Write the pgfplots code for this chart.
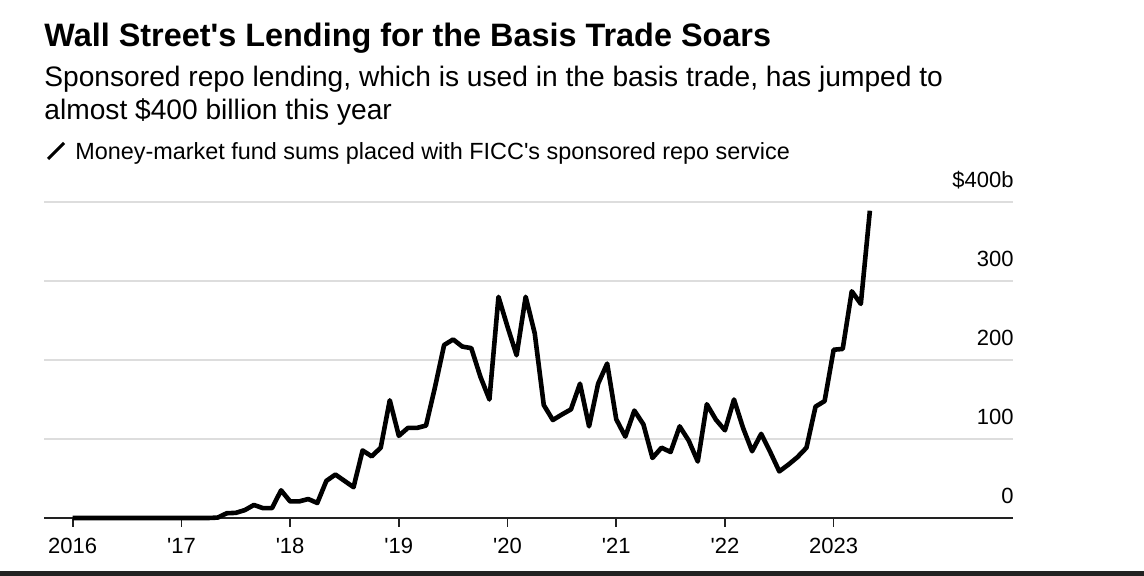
\documentclass[border=0pt]{standalone}
\usepackage{fontspec}
\setmainfont{Liberation Sans}
\usepackage{pgfplots}
\pgfplotsset{compat=1.18}
\definecolor{gridgray}{HTML}{DDDDDD}
\definecolor{axisdark}{HTML}{222222}
\newcommand{\q}{\textquotesingle}

\begin{document}
\begin{tikzpicture}
% page is 572pt x 288pt (1 px = 0.5 pt)
\path[use as bounding box, fill=white] (0,0) rectangle (572pt,288pt);
\fill[axisdark] (0,0) rectangle (572pt,2.5pt);

\node[anchor=base west, inner sep=0pt, font=\fontsize{16.2}{19}\selectfont\bfseries]
  at (22pt,264.5pt) {Wall Street\q s Lending for the Basis Trade Soars};
\node[anchor=base west, inner sep=0pt, font=\fontsize{14.08}{16.5}\selectfont]
  at (22pt,244.5pt) {Sponsored repo lending, which is used in the basis trade, has jumped to};
\node[anchor=base west, inner sep=0pt, font=\fontsize{14.08}{16.5}\selectfont]
  at (22pt,228pt) {almost \$400 billion this year};
% legend
\draw[line width=1.5pt] (24pt,208.5pt) -- (32pt,216.5pt);
\node[anchor=base west, inner sep=0pt, font=\fontsize{11.7}{14}\selectfont]
  at (37.5pt,208pt) {Money-market fund sums placed with FICC\q s sponsored repo service};

\begin{axis}[
  at={(22pt,29pt)}, anchor=south west,
  width=484.5pt, height=158pt, scale only axis,
  xmin=-3.17, xmax=103.8, ymin=0, ymax=400,
  axis x line=bottom, axis y line*=right,
  x axis line style={-, axisdark, line width=0.8pt},
  y axis line style={draw=none},
  tick align=outside, major tick length=4.5pt,
  xtick={0,12,...,84},
  xticklabels={2016,\q17,\q18,\q19,\q20,\q21,\q22,2023},
  x tick style={axisdark, line width=0.8pt},
  x tick label style={font=\fontsize{11}{13}\selectfont, yshift=-2pt},
  ytick={0,100,200,300,400},
  yticklabels={0,100,200,300,\$400b},
  y tick style={draw=none},
  y tick label style={anchor=base east, inner sep=0pt,
    font=\fontsize{11}{13}\selectfont, xshift=-4pt, yshift=7pt},
  ymajorgrids, grid style={gridgray, line width=1pt},
  clip=false,
]
% x = months since Jan 2016, y = $ billions
\addplot[black, line width=2.3pt, line join=round] coordinates {
  (0,0) (1,0) (2,0) (3,0) (4,0) (5,0) (6,0) (7,0) (8,0) (9,0)
  (10,0) (11,0) (12,0) (13,0) (14,0) (15,0) (16,0.5) (17,6) (18,6.5) (19,10)
  (20,16.5) (21,12.5) (22,12.5) (23,35) (24,21) (25,21) (26,24) (27,19) (28,47) (29,55)
  (30,47) (31,39) (32,85.5) (33,78) (34,89) (35,149) (36,104) (37,114) (38,114) (39,117)
  (40,166) (41,219) (42,226) (43,217) (44,215) (45,179) (46,150) (47,280) (48,242) (49,206)
  (50,280) (51,234) (52,143) (53,124) (54,131) (55,137.5) (56,170) (57,116) (58,170) (59,195.5)
  (60,125) (61,103) (62,136) (63,118.5) (64,76) (65,89) (66,83.5) (67,116) (68,98) (69,71.5)
  (70,144) (71,124.5) (72,111) (73,150) (74,114) (75,84.5) (76,106.5) (77,83.5) (78,59) (79,67.5)
  (80,77) (81,89) (82,141) (83,148) (84,213) (85,214) (86,287) (87,271) (88,389)
};
\end{axis}
\end{tikzpicture}
\end{document}
